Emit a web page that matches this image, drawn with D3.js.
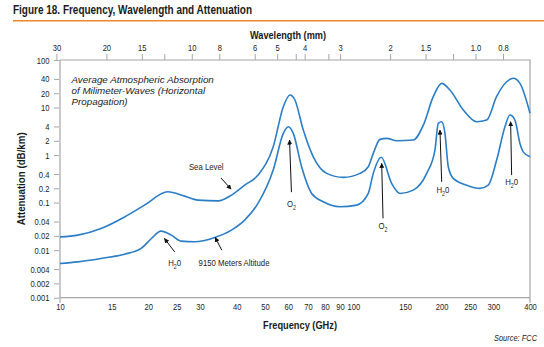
<!DOCTYPE html>
<html>
<head>
<meta charset="utf-8">
<script src="https://cdn.jsdelivr.net/npm/d3@7"></script>
<style>
  body { margin: 0; background: #fff; }
  svg { display: block; font-family: "Liberation Sans", Arial, sans-serif; }
  .frame { stroke: #a6a6a6; stroke-width: 1.2; fill: none; }
  .tick text { fill: #222; font-size: 9.5px; font-family: "Liberation Sans", Arial, sans-serif; }
  .tick line { stroke: #a6a6a6; }
  .domain { display: none; }
  .curve { fill: none; stroke: #2b7dc6; stroke-width: 1.6; }
  .note { font-size: 9.5px; fill: #222; }
  .lead { stroke: #111; stroke-width: 1; }
</style>
</head>
<body>
<svg id="chart" width="544" height="347"></svg>
<script>
// Frequency (GHz) and attenuation (dB/km)
const seaFreq  = [10, 11.5, 13.8, 16.6, 19.4, 23.3, 26.6, 29.5, 34.6, 38.4, 42.6, 47.3, 53.3, 57.7, 60.8, 63.2, 67.5, 73, 81.1, 92.4, 105.3, 112.4, 116.9, 123.2, 129.9, 140.5, 160, 173.2, 187.2, 200, 213.4, 237, 263, 284.7, 307.6, 333, 350.8, 369.7, 400];
const seaAtten = [0.019, 0.0207, 0.0286, 0.05, 0.0886, 0.169, 0.137, 0.113, 0.109, 0.144, 0.233, 0.379, 1.5, 10.4, 18.3, 14.4, 3.36, 0.92, 0.412, 0.34, 0.412, 0.568, 1.086, 2.14, 2.25, 2.0, 2.07, 4.28, 16.9, 32.3, 23.4, 8.86, 5.02, 5.45, 16.9, 34.9, 41.2, 32.3, 7.6];

const altFreq  = [10, 11.5, 13.8, 16.6, 18.9, 20.5, 22.1, 23.95, 25.9, 28.8, 33.7, 38.4, 42.6, 47.3, 53.3, 57.7, 60, 62.4, 66.6, 72.1, 79, 90, 102.6, 112.4, 116.9, 124.5, 135, 144.2, 160, 177.8, 189.7, 194.7, 200, 205.2, 210.6, 219, 243.3, 270, 288.3, 307.9, 328.6, 341.7, 355.4, 369.7, 379.3, 400];
const altAtten = [0.00525, 0.00567, 0.00669, 0.00824, 0.0109, 0.0176, 0.0251, 0.0207, 0.0155, 0.015, 0.0185, 0.0264, 0.0428, 0.0962, 0.483, 2.86, 3.94, 2.86, 0.568, 0.156, 0.104, 0.0817, 0.0886, 0.156, 0.412, 0.9, 0.254, 0.156, 0.183, 0.412, 1.27, 4.65, 5.02, 2.86, 0.568, 0.323, 0.233, 0.199, 0.233, 0.785, 3.94, 6.95, 5.45, 1.76, 1.17, 0.92];

const freqTicks  = [10, 15, 20, 25, 30, 40, 50, 60, 70, 80, 90, 100, 150, 200, 250, 300, 400];
const waveTicks  = [30, 20, 15, 10, 8, 6, 5, 4, 3, 2, 1.5, 1.0, 0.8];
const waveMinor  = [12.5, 4.3, 3.3, 1.2];
const attenTicks = [100, 40, 20, 10, 4, 2, 1, 0.4, 0.2, 0.1, 0.04, 0.02, 0.01, 0.004, 0.002, 0.001];

// annotations: arrow tip, arrow tail, label (all in GHz / dB/km)
const notes = [
  { text: "Sea Level",             tip: [38.3, 0.192], tail: [35.4, 0.328], at: [31.5, 0.551] },
  { text: "H|2|0",                 tip: [22.7, 0.0176], tail: [24.6, 0.0092], at: [24.6, 0.00525] },
  { text: "9150 Meters Altitude",  tip: [33.8, 0.0185], tail: [35.6, 0.0100], at: [39.2, 0.00525] },
  { text: "O|2|",                  tip: [60.6, 2.07],  tail: [61.5, 0.166], at: [61.5, 0.0886] },
  { text: "O|2|",                  tip: [124.9, 0.669], tail: [126.2, 0.0465], at: [126.2, 0.0305] },
  { text: "H|2|0",                 tip: [197.3, 3.36], tail: [200, 0.274], at: [202, 0.175] },
  { text: "H|2|0",                 tip: [343.6, 5.02], tail: [346.3, 0.379], at: [346.3, 0.261] }
];

const svg = d3.select('#chart');
const m = { left: 60, right: 530, top: 60, bottom: 297.7 };
const squeeze = 0.8; // the source uses a condensed face

const x = d3.scaleLog().domain([10, 400]).range([m.left, m.right]);
const y = d3.scaleLog().domain([0.001, 100]).range([m.bottom, m.top]);
const xTop = d3.scaleLog().domain([30, 0.8]).range([56.4, 503]);

// title + orange rule
svg.append('text')
  .attr('x', 13).attr('y', 13.5)
  .attr('font-size', '13px').attr('font-weight', 'bold').attr('fill', '#1a1a1a')
  .attr('textLength', 239).attr('lengthAdjust', 'spacingAndGlyphs')
  .text('Figure 18. Frequency, Wavelength and Attenuation');
svg.append('line')
  .attr('x1', 13).attr('x2', 544).attr('y1', 20.7).attr('y2', 20.7)
  .attr('stroke', '#f0862a').attr('stroke-width', 1.5);

// frame
svg.append('path').attr('class', 'frame')
  .attr('d', `M${m.left},${m.bottom + 5}V${m.top}H${m.right}V${m.bottom + 5}M${m.left},${m.bottom}H${m.right}`);

// axes
const gLeft = svg.append('g')
  .attr('transform', `translate(${m.left - 1},0)`)
  .call(d3.axisLeft(y).tickValues(attenTicks).tickFormat(d => String(d)).tickSize(5).tickPadding(7));

const gBottom = svg.append('g')
  .attr('transform', `translate(0,${m.bottom})`)
  .call(d3.axisBottom(x).tickValues(freqTicks).tickFormat(d => String(d)).tickSize(0).tickPadding(6));

const gTop = svg.append('g')
  .attr('transform', `translate(0,${m.top})`)
  .call(d3.axisTop(xTop).tickValues(waveTicks).tickFormat(d => d === 1 ? '1.0' : String(d)).tickSize(6).tickPadding(3));

svg.append('g')
  .attr('transform', `translate(0,${m.top})`)
  .call(d3.axisTop(xTop).tickValues(waveMinor).tickFormat('').tickSize(6));

[gLeft, gBottom, gTop].forEach(g => g.selectAll('.tick text').attr('transform', `scale(${squeeze},1)`));

// axis titles
svg.append('text')
  .attr('x', 288).attr('y', 38.5)
  .attr('text-anchor', 'middle').attr('font-size', '10px').attr('font-weight', 'bold').attr('fill', '#1a1a1a')
  .attr('textLength', 76).attr('lengthAdjust', 'spacingAndGlyphs')
  .text('Wavelength (mm)');
svg.append('text')
  .attr('x', 300).attr('y', 328.5)
  .attr('text-anchor', 'middle').attr('font-size', '10px').attr('font-weight', 'bold').attr('fill', '#1a1a1a')
  .attr('textLength', 74).attr('lengthAdjust', 'spacingAndGlyphs')
  .text('Frequency (GHz)');
svg.append('text')
  .attr('transform', `translate(25,${(m.top + m.bottom) / 2}) rotate(-90)`)
  .attr('text-anchor', 'middle').attr('font-size', '10px').attr('font-weight', 'bold').attr('fill', '#1a1a1a')
  .attr('textLength', 93).attr('lengthAdjust', 'spacingAndGlyphs')
  .text('Attenuation (dB/km)');

svg.append('text')
  .attr('x', 537).attr('y', 340.5)
  .attr('text-anchor', 'end').attr('font-size', '8.5px').attr('font-style', 'italic').attr('fill', '#222')
  .attr('textLength', 43).attr('lengthAdjust', 'spacingAndGlyphs')
  .text('Source: FCC');

// italic caption
const cap = svg.append('text')
  .attr('font-size', '9.8px').attr('font-style', 'italic').attr('fill', '#222');
['Average Atmospheric Absorption', 'of Milimeter-Waves (Horizontal', 'Propagation)'].forEach((t, i) => {
  cap.append('tspan').attr('x', 71.5).attr('y', 82.5 + i * 11).text(t);
});

// curves
const line = d3.line()
  .x(d => x(d[0]))
  .y(d => y(d[1]))
  .curve(d3.curveMonotoneX);

svg.append('path').attr('class', 'curve')
  .attr('d', line(seaFreq.map((f, i) => [f, seaAtten[i]])));
svg.append('path').attr('class', 'curve')
  .attr('d', line(altFreq.map((f, i) => [f, altAtten[i]])));

// arrow heads
svg.append('defs').append('marker')
  .attr('id', 'head')
  .attr('viewBox', '0 0 10 10')
  .attr('refX', 9).attr('refY', 5)
  .attr('markerWidth', 5).attr('markerHeight', 5)
  .attr('orient', 'auto')
  .append('path').attr('d', 'M0,0L10,5L0,10Z').attr('fill', '#111');

notes.forEach(n => {
  svg.append('line').attr('class', 'lead')
    .attr('x1', x(n.tail[0])).attr('y1', y(n.tail[1]))
    .attr('x2', x(n.tip[0])).attr('y2', y(n.tip[1]))
    .attr('marker-end', 'url(#head)');

  const parts = n.text.split('|');
  const t = svg.append('text').attr('class', 'note')
    .attr('transform', `translate(${x(n.at[0])},${y(n.at[1])}) scale(0.82,1)`)
    .attr('text-anchor', 'middle').attr('dominant-baseline', 'middle');
  t.append('tspan').text(parts[0]);
  if (parts.length > 1) {
    t.append('tspan').attr('font-size', '6.5px').attr('dy', 3).text(parts[1]);
    t.append('tspan').attr('dy', -3).text(parts[2]);
  }
});
</script>
</body>
</html>
